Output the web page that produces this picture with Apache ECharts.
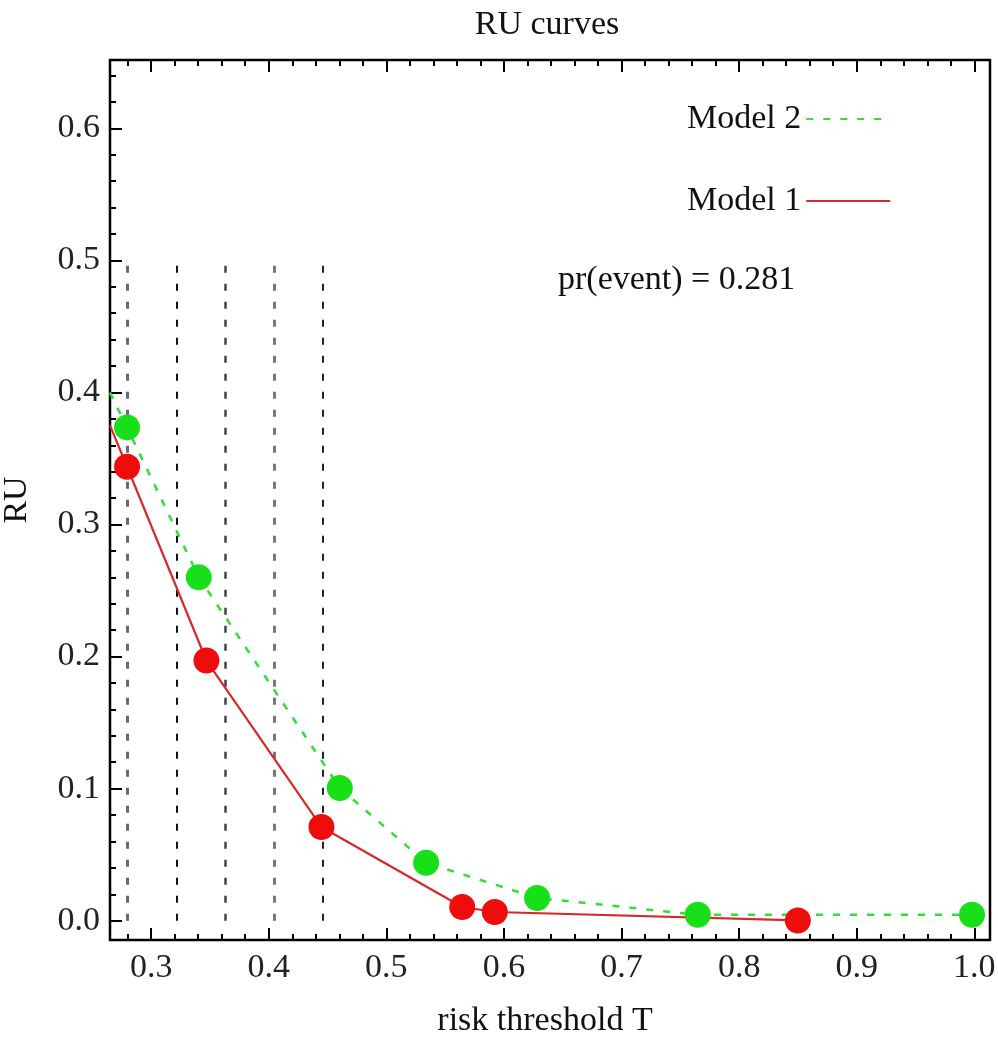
<!DOCTYPE html>
<html>
<head>
<meta charset="utf-8">
<script src="https://cdn.jsdelivr.net/npm/echarts@6/dist/echarts.min.js"></script>
<style>
html,body{margin:0;padding:0;background:#fff;}
#chart{width:998px;height:1050px;}
</style>
</head>
<body>
<div id="chart"></div>
<script>
// ---- data ----
const model1T  = [0.2795, 0.347, 0.4448, 0.5645, 0.5922, 0.8499];
const model1RU = [0.3437, 0.197, 0.071, 0.0104, 0.0066, 0.0002];
const model2T  = [0.2795, 0.3405, 0.4604, 0.5338, 0.6282, 0.7648, 0.998];
const model2RU = [0.3735, 0.260, 0.1005, 0.0439, 0.0172, 0.0045, 0.0045];
// curves continue to the left frame edge
const lineStartT = 0.265;
const model1StartRU = 0.375;
const model2StartRU = 0.400;
// vertical reference thresholds (dashed), drawn from RU 0 to 0.5
const refT = [0.2796, 0.3215, 0.3632, 0.4048, 0.446];
const refBottom = 0.0;
const refTop = 0.5;
// ticks
const xMajor = [0.3, 0.4, 0.5, 0.6, 0.7, 0.8, 0.9, 1.0];
const yMajor = [0.0, 0.1, 0.2, 0.3, 0.4, 0.5, 0.6];
const xRange = [0.265, 1.0133];
const yRange = [-0.0146, 0.6517];
const pEventLabel = 'pr(event) = 0.281';

// ---- styles ----
const FONT = '"Liberation Serif", "Times New Roman", serif';
const FS = 34;
const refColors = ['#6a6a6a', '#111111', '#444444', '#777777', '#222222'];
const refWidths = [3, 2, 2.5, 3, 2];

function minorTicks(major, step, lo, hi) {
  const out = [];
  const start = Math.ceil((lo - 1e-9) / step);
  const end = Math.floor((hi + 1e-9) / step);
  for (let i = start; i <= end; i++) {
    const v = Math.round(i * step * 1000) / 1000;
    if (!major.some(m => Math.abs(m - v) < 1e-6)) out.push(v);
  }
  return out;
}
const xMinor = minorTicks(xMajor, 0.02, xRange[0], xRange[1]);
const yMinor = minorTicks(yMajor, 0.02, yRange[0], yRange[1]);

const m1Line = [[lineStartT, model1StartRU]].concat(model1T.map((t, i) => [t, model1RU[i]]));
const m2Line = [[lineStartT, model2StartRU]].concat(model2T.map((t, i) => [t, model2RU[i]]));
const m1Pts = model1T.map((t, i) => [t, model1RU[i]]);
const m2Pts = model2T.map((t, i) => [t, model2RU[i]]);

const refLines = refT.map((t, i) => [
  { coord: [t, refBottom], lineStyle: { color: refColors[i], width: refWidths[i], type: [7, 11] } },
  { coord: [t, refTop] }
]);

function xAx(pos, values, len, labels) {
  return {
    type: 'value', position: pos, min: xRange[0], max: xRange[1],
    axisLine: { show: false, onZero: false },
    splitLine: { show: false },
    axisTick: { show: true, inside: true, length: len, customValues: values, lineStyle: { color: '#000', width: 2 } },
    axisLabel: labels ? {
      show: true, customValues: values, margin: 11,
      formatter: v => v.toFixed(1),
      fontFamily: FONT, fontSize: FS, color: '#222'
    } : { show: false },
    name: labels ? 'risk threshold T' : '',
    nameLocation: 'middle', nameGap: 64,
    nameTextStyle: { fontFamily: FONT, fontSize: FS, color: '#111', padding: [0, 10, 0, 0] }
  };
}
function yAx(values, len, labels) {
  return {
    type: 'value', position: 'left', min: yRange[0], max: yRange[1],
    axisLine: { show: false, onZero: false },
    splitLine: { show: false },
    axisTick: { show: true, inside: true, length: len, customValues: values, lineStyle: { color: '#000', width: 2 } },
    axisLabel: labels ? {
      show: true, customValues: values, margin: 10,
      formatter: v => v.toFixed(1),
      fontFamily: FONT, fontSize: FS, color: '#222'
    } : { show: false },
    name: labels ? 'RU' : '',
    nameLocation: 'middle', nameGap: 76, nameRotate: 90,
    nameTextStyle: { fontFamily: FONT, fontSize: FS, color: '#111' }
  };
}

const chart = echarts.init(document.getElementById('chart'), null, { renderer: 'canvas' });
chart.setOption({
  animation: false,
  backgroundColor: '#fff',
  title: {
    text: 'RU curves', left: 542, textAlign: 'center', top: 3,
    textStyle: { fontFamily: FONT, fontSize: FS, fontWeight: 'normal', color: '#111' }
  },
  grid: {
    left: 110, right: 8, top: 60, bottom: 110,
    outerBoundsMode: 'none', containLabel: false,
    show: true, borderColor: '#000', borderWidth: 2.5, backgroundColor: 'transparent'
  },
  legend: {
    data: ['Model 2', 'Model 1'],
    orient: 'vertical', left: 682, top: 97, align: 'right',
    itemWidth: 84, itemHeight: 14, itemGap: 48,
    itemStyle: { opacity: 0 },
    textStyle: { fontFamily: FONT, fontSize: FS, color: '#111', lineHeight: 34 }
  },
  graphic: [{
    type: 'text', left: 558, top: 263, silent: true,
    style: { text: pEventLabel, font: FS + 'px ' + FONT, fill: '#111' }
  }],
  xAxis: [
    xAx('bottom', xMajor, 12, true),
    xAx('bottom', xMinor, 6, false),
    xAx('top', xMajor, 12, false),
    xAx('top', xMinor, 6, false)
  ],
  yAxis: [
    yAx(yMajor, 12, true),
    yAx(yMinor, 6, false)
  ],
  series: [
    {
      type: 'line', name: 'refs', data: [], silent: true,
      markLine: { silent: true, symbol: ['none', 'none'], label: { show: false }, data: refLines, z: 1 }
    },
    {
      type: 'line', name: 'Model 2', data: m2Line, symbol: 'none', z: 3,
      lineStyle: { color: '#33dd33', width: 2.5, type: [7, 10] },
      itemStyle: { color: '#33dd33' }
    },
    {
      type: 'line', name: 'Model 1', data: m1Line, symbol: 'none', z: 3,
      lineStyle: { color: '#d42a2a', width: 2.2 },
      itemStyle: { color: '#d42a2a' }
    },
    {
      type: 'scatter', name: 'Model 2 pts', data: m2Pts, symbol: 'circle', symbolSize: 26, z: 4,
      itemStyle: { color: '#18e018', opacity: 1 }
    },
    {
      type: 'scatter', name: 'Model 1 pts', data: m1Pts, symbol: 'circle', symbolSize: 26, z: 4,
      itemStyle: { color: '#ee0c0c', opacity: 1 }
    }
  ]
});
</script>
</body>
</html>
